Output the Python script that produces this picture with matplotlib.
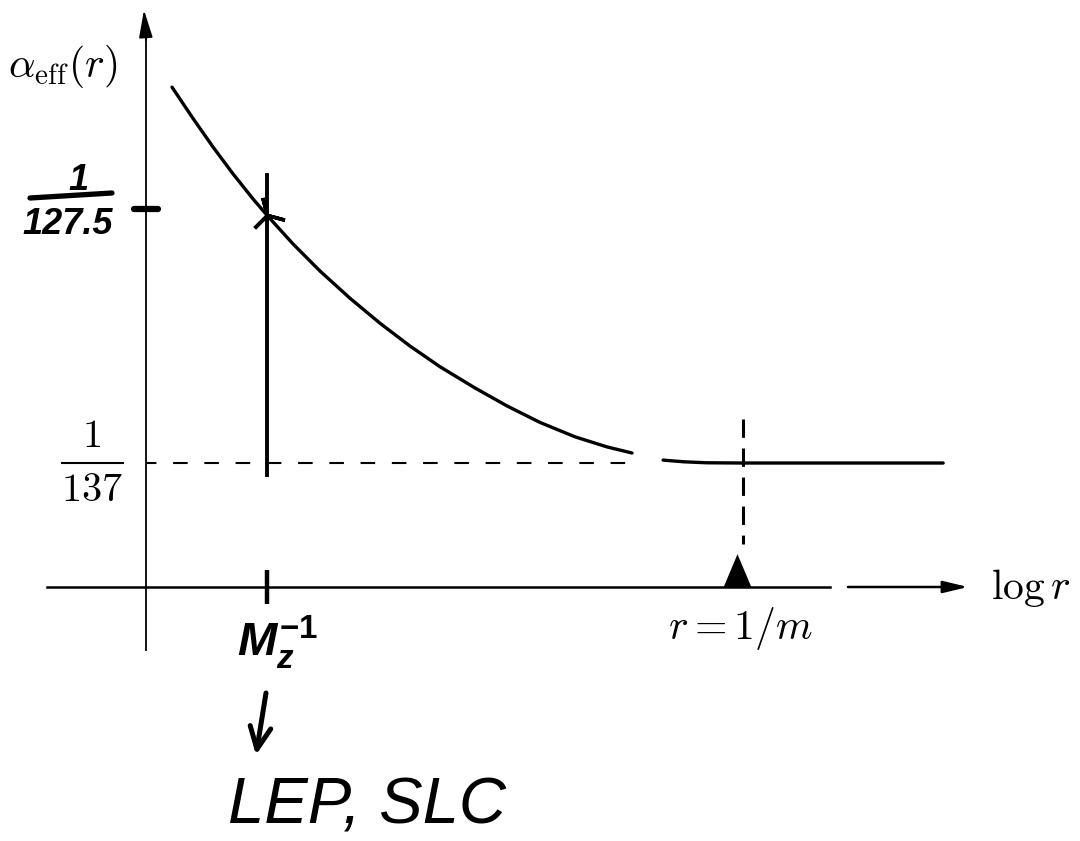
import numpy as np
import matplotlib
matplotlib.use("Agg")
import matplotlib.pyplot as plt
from matplotlib.path import Path

plt.rcParams['mathtext.fontset'] = 'cm'
plt.rcParams['mathtext.it'] = 'Liberation Sans:italic:bold'
plt.rcParams['mathtext.rm'] = 'Liberation Sans:bold'
plt.rcParams['mathtext.bf'] = 'Liberation Sans:bold'
plt.rcParams['font.family'] = ['DejaVu Sans']

# ---------------- data ----------------
# x: log10(r * M_Z)  (decades of distance, r = 1/M_Z at 0)
# y: inverse effective coupling 1/alpha_eff(r)
running_logr = [-1.048, -0.816, -0.596, -0.375, -0.154, 0.000, 0.287, 0.585, 0.916,
                1.247, 1.578, 1.909, 2.295, 2.648, 3.012, 3.398, 3.751, 4.027]
running_inv_alpha = [123.10, 124.15, 125.12, 126.05, 126.93, 127.51, 128.54, 129.53,
                     130.54, 131.48, 132.35, 133.15, 133.98, 134.69, 135.35, 135.93,
                     136.34, 136.59]
plateau_logr = [4.37, 4.60, 4.85, 5.25, 7.46]
plateau_inv_alpha = [136.88, 136.95, 136.99, 137.00, 137.00]

mz_logr = 0.0          # r = 1/M_Z  (LEP, SLC)
me_logr = 5.25         # r = 1/m    (log10 M_Z/m_e)
inv_alpha_mz = 127.5
inv_alpha_low = 137.0

y_label = r"$\alpha_{\rm eff}(r)$"
x_label = r"$\log r$"
mz_label = r"$M_z^{-1}$"
me_label = r"$r = 1/m$"
mz_value_label = ("1", "127.5")
low_value_label = (r"$1$", r"$137$")
experiment_label = "LEP, SLC"

# ---------------- layout ----------------
W, H = 1080, 841
fig = plt.figure(figsize=(W / 100, H / 100), dpi=100)
ax = fig.add_axes([0, 0, 1, 1])
ax.set_xlim(-2.946, 8.970)
ax.set_ylim(0.0064704, 0.0083146)
ax.axis('off')

def P(px, py):
    return (px / W, 1 - py / H)

TA = ax.transAxes
K = 'black'

# axes (hand-built, with arrow heads)
x0, _ = P(146, 0)
ax.plot([x0, x0], [P(0, 650)[1], P(0, 30)[1]], color=K, lw=1.3, transform=TA)
ax.annotate('', xy=P(144, 10), xytext=P(146, 40), xycoords='axes fraction',
            arrowprops=dict(arrowstyle='-|>,head_length=1.7,head_width=0.42',
                            mutation_scale=10, lw=1.3, color=K, shrinkA=0, shrinkB=0))
ax.plot([P(47, 587)[0], P(830, 587)[0]], [P(0, 587)[1]] * 2, color=K, lw=1.8, transform=TA)
ax.annotate('', xy=P(968, 587), xytext=P(848, 587), xycoords='axes fraction',
            arrowprops=dict(arrowstyle='-|>,head_length=1.5,head_width=0.36',
                            mutation_scale=10, lw=1.8, color=K, shrinkA=0, shrinkB=0))
alpha_axis = ax.transData.inverted().transform(TA.transform(P(0, 587)))[1]
logr_yaxis = ax.transData.inverted().transform(TA.transform(P(146, 0)))[0]

# running coupling
ax.plot(running_logr, 1 / np.array(running_inv_alpha), color=K, lw=2.4,
        solid_capstyle='round', solid_joinstyle='round')
ax.plot(plateau_logr, 1 / np.array(plateau_inv_alpha), color=K, lw=2.4,
        solid_capstyle='round', solid_joinstyle='round')

# reference line at 1/137
ax.plot([logr_yaxis, 4.05], [1 / inv_alpha_low] * 2, color=K, lw=1.5,
        linestyle=(2, (7.0, 8.0)))

# M_Z vertical marker
ax.plot([mz_logr, mz_logr], [1 / 126.1, 1 / 137.5], color=K, lw=2.8)
ax.plot([mz_logr], [1 / inv_alpha_mz], marker=(3, 2, 15), ms=26, mew=2.6, color=K)
ax.plot([mz_logr], [alpha_axis], marker='|', ms=25, mew=3.2, color=K)

# 1/m dashed vertical and triangle
ax.plot([me_logr, me_logr], [1 / 135.2, 1 / 140.4], color=K, lw=2.2,
        linestyle=(0, (6.0, 3.5)))
tri = Path([(-0.42, 0), (0, 1), (0.42, 0), (-0.42, 0)],
           [Path.MOVETO, Path.LINETO, Path.LINETO, Path.CLOSEPOLY])
ax.plot([me_logr - 0.06], [alpha_axis], marker=tri, ms=48, color=K, mew=0)

# ---- text ----
ax.text(*P(63, 67), y_label, transform=TA, fontsize=30, ha='center', va='center')
ax.text(*P(1031, 588), x_label, transform=TA, fontsize=30, ha='center', va='center')
ax.text(*P(740, 628), me_label, transform=TA, fontsize=30, ha='center', va='center')

# 1/137 typeset fraction
ax.text(*P(92, 436), low_value_label[0], transform=TA, fontsize=29,
        ha='center', va='center', math_fontfamily='cm')
ax.text(*P(92, 490), low_value_label[1], transform=TA, fontsize=29,
        ha='center', va='center', math_fontfamily='cm')
ax.plot([P(62, 0)[0], P(123, 0)[0]], [P(0, 463)[1]] * 2, color=K, lw=1.5, transform=TA)

# 1/127.5 handwritten fraction
hand = dict(family='Liberation Sans', style='italic', weight='bold', color=K)
ax.text(*P(78, 180), mz_value_label[0], transform=TA, fontsize=26,
        ha='center', va='center', **hand)
ax.plot([P(30, 0)[0], P(112, 0)[0]], [P(0, 198)[1], P(0, 193)[1]], color=K, lw=3.8,
        transform=TA, solid_capstyle='round')
ax.text(*P(68, 225), mz_value_label[1], transform=TA, fontsize=26,
        ha='center', va='center', **hand)
ax.plot([P(134, 0)[0], P(158, 0)[0]], [P(0, 209)[1]] * 2, color=K, lw=4.5,
        transform=TA, solid_capstyle='round')

# M_z^-1 handwritten label
ax.text(*P(278, 642), mz_label, transform=TA, fontsize=34, ha='center', va='center',
        math_fontfamily='custom')

# down arrow and experiment label
ax.annotate('', xy=P(256, 755), xytext=P(266, 693), xycoords='axes fraction',
            arrowprops=dict(arrowstyle='->,head_length=1.6,head_width=0.75',
                            mutation_scale=10, lw=3.6, color=K, shrinkA=0, shrinkB=0))
ax.text(*P(367, 806), experiment_label, transform=TA, fontsize=47, ha='center',
        va='center', family='Liberation Sans', style='italic', color=K)

fig.savefig('out.png', dpi=100)
